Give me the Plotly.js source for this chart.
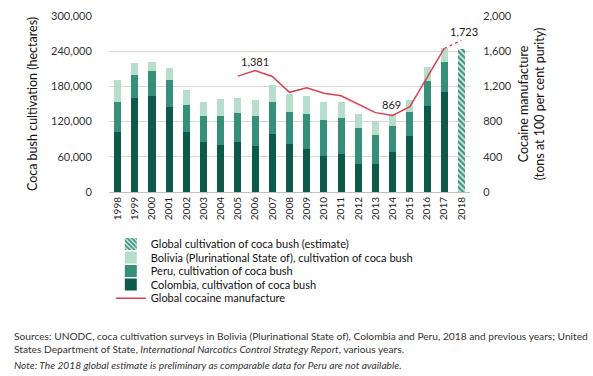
<!DOCTYPE html>
<html>
<head>
<meta charset="utf-8">
<script src="https://cdn.plot.ly/plotly-3.0.1.min.js"></script>
<style>
html,body{margin:0;padding:0;background:#fff;}
#chart{width:593px;height:376px;}
</style>
</head>
<body>
<div id="chart"></div>
<script>
const years = [1998,1999,2000,2001,2002,2003,2004,2005,2006,2007,2008,2009,2010,2011,2012,2013,2014,2015,2016,2017];
const colombia = [101800,160100,163300,144800,102000,86000,80000,86000,78000,99000,81000,73000,62000,64000,48000,48000,69000,96000,146000,171000];
const peru = [51000,38700,43400,46200,46700,44200,50300,48200,51400,53700,56100,59900,61200,62500,60400,49800,42900,40300,43900,49900];
const bolivia = [38000,21800,14600,19900,24400,23600,27700,25400,27500,28900,30500,30900,31000,27200,25300,23000,20400,20200,23100,24500];
const globalYears = [2018];
const globalEstimate = [244200];
const cocaineYears = [2005,2006,2007,2008,2009,2010,2011,2012,2013,2014,2015,2016,2017];
const cocaine = [1317,1381,1313,1133,1185,1122,1094,998,902,869,970,1300,1631];
const cocaineEstYears = [2017,2018];
const cocaineEst = [1631,1723];
const tickYears = years.concat(globalYears);

const FONT = "Lato, 'Open Sans', sans-serif";
const legFont = {family:FONT, size:11, color:'#111'};
function leg(y){ return {x:0.005, y:y, xanchor:'left', yanchor:'middle', font:legFont, bgcolor:'rgba(0,0,0,0)', borderwidth:0, itemwidth:30}; }

const traces = [
  {type:'bar', name:'Colombia, cultivation of coca bush', x:years, y:colombia,
   marker:{color:'#0d5a4a'}, legend:'legend4', hoverinfo:'none'},
  {type:'bar', name:'Peru, cultivation of coca bush', x:years, y:peru,
   marker:{color:'#368f79'}, legend:'legend3', hoverinfo:'none'},
  {type:'bar', name:'Bolivia (Plurinational State of), cultivation of coca bush', x:years, y:bolivia,
   marker:{color:'#b7decb'}, legend:'legend2', hoverinfo:'none'},
  {type:'bar', name:'Global cultivation of coca bush (estimate)', x:globalYears, y:globalEstimate,
   marker:{color:'#3f9883', pattern:{shape:'\\', bgcolor:'#3f9883', fgcolor:'#ffffff', size:4, solidity:0.35}},
   legend:'legend', hoverinfo:'none'},
  {type:'scatter', mode:'lines', name:'Global cocaine manufacture', x:cocaineYears, y:cocaine, yaxis:'y2',
   line:{color:'#d9404f', width:1.5}, legend:'legend5', hoverinfo:'none'},
  {type:'scatter', mode:'lines', name:'estimate', x:cocaineEstYears, y:cocaineEst, yaxis:'y2',
   line:{color:'#d9404f', width:1.2, dash:'dot'}, showlegend:false, hoverinfo:'none'}
];

const layout = {
  width:593, height:376,
  margin:{l:109, r:123, t:16, b:184},
  paper_bgcolor:'#ffffff', plot_bgcolor:'#ffffff',
  font:{family:FONT, size:10, color:'#333'},
  barmode:'stack', bargap:0.59,
  showlegend:true,
  legend:leg(-0.295),
  legend2:leg(-0.372),
  legend3:leg(-0.449),
  legend4:leg(-0.526),
  legend5:leg(-0.603),
  xaxis:{range:[1997.5,2018.5], tickvals:tickYears, ticktext:tickYears.map(String),
         tickangle:-90, tickfont:{family:FONT, size:10, color:'#222'},
         showline:true, linecolor:'#bfbfbf', linewidth:1, ticks:'', showgrid:false, zeroline:false},
  yaxis:{range:[0,300000], tickvals:[0,60000,120000,180000,240000,300000],
         ticktext:['0','60,000','120,000','180,000','240,000','300,000'],
         showgrid:true, gridcolor:'#d9d9d9', gridwidth:1, zeroline:false,
         tickfont:{family:FONT, size:11, color:'#333'}, ticks:'outside', ticklen:14, tickcolor:'rgba(0,0,0,0)',
         title:{text:'Coca bush cultivation (hectares)', font:{family:FONT, size:12.5, color:'#111'}, standoff:10}},
  yaxis2:{range:[0,2000], overlaying:'y', side:'right', tickvals:[0,400,800,1200,1600,2000],
          ticktext:['0','400','800','1,200','1,600','2,000'], showgrid:false, zeroline:false,
          tickfont:{family:FONT, size:11, color:'#333'}, ticks:'outside', ticklen:10, tickcolor:'rgba(0,0,0,0)',
          title:{text:'Cocaine manufacture<br>(tons at 100 per cent purity)', font:{family:FONT, size:12.5, color:'#111'}, standoff:8}},
  annotations:[
    {x:2006, y:1381, xref:'x', yref:'y2', text:'1,381', showarrow:false, yanchor:'bottom', yshift:0,
     font:{family:FONT, size:11, color:'#222'}},
    {x:2014, y:869, xref:'x', yref:'y2', text:'869', showarrow:false, yanchor:'bottom', yshift:3, xshift:-1,
     font:{family:FONT, size:11, color:'#222'}},
    {x:2018, y:1723, xref:'x', yref:'y2', text:'1,723', showarrow:false, yanchor:'bottom', yshift:0, xshift:3,
     font:{family:FONT, size:11, color:'#222'}},
    {xref:'paper', yref:'paper', x:-0.27, y:-0.775, xanchor:'left', yanchor:'top', align:'left', showarrow:false,
     text:'Sources: UNODC, coca cultivation surveys in Bolivia (Plurinational State of), Colombia and Peru, 2018 and previous years; United<br>States Department of State, <i>International Narcotics Control Strategy Report</i>, various years.',
     font:{family:FONT, size:10.2, color:'#333'}},
    {xref:'paper', yref:'paper', x:-0.27, y:-0.938, xanchor:'left', yanchor:'top', align:'left', showarrow:false,
     text:'<i>Note: The 2018 global estimate is preliminary as comparable data for Peru are not available.</i>',
     font:{family:FONT, size:10.2, color:'#333'}}
  ]
};

Plotly.newPlot('chart', traces, layout, {staticPlot:true, displayModeBar:false});
</script>
</body>
</html>
